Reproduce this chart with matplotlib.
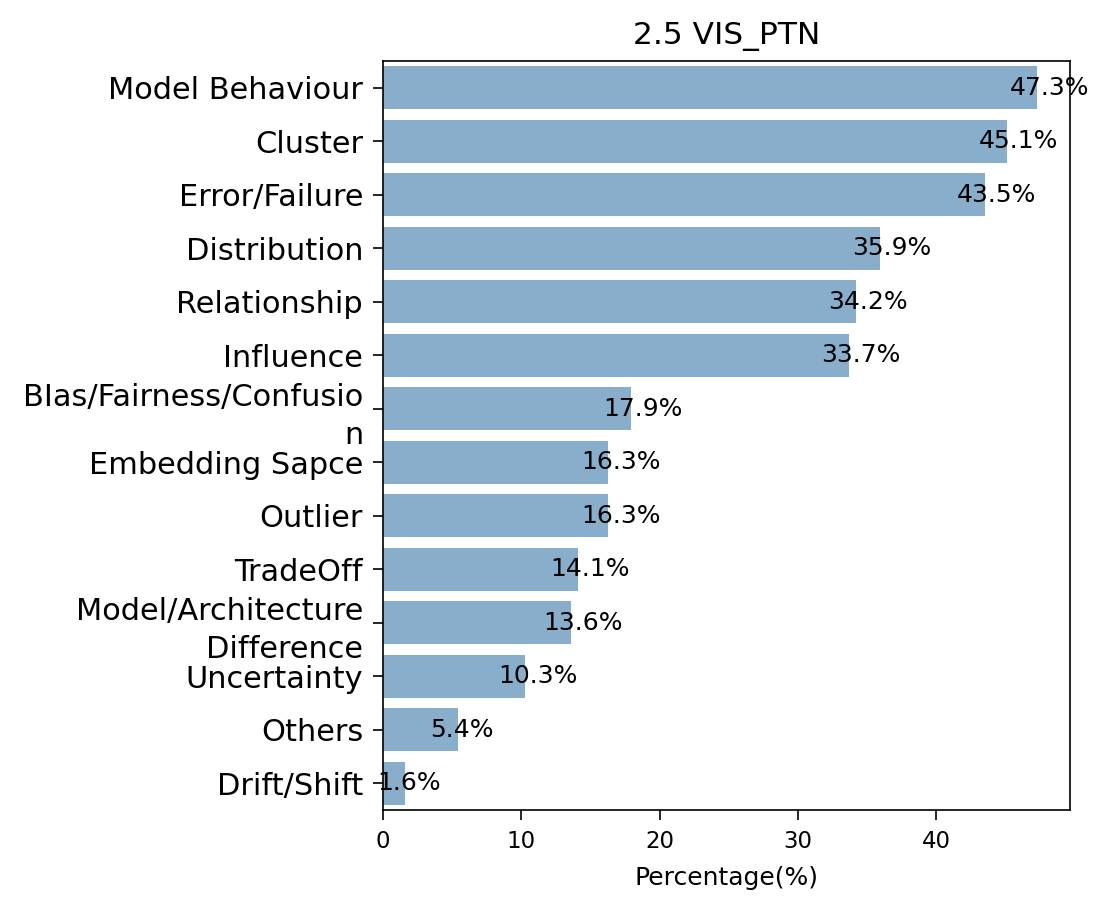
import textwrap
import matplotlib
matplotlib.use('Agg')
import matplotlib.pyplot as plt
import seaborn as sns
import pandas as pd

# Данные
categories = ['Model Behaviour', 'Cluster', 'Error/Failure', 'Distribution',
              'Relationship', 'Influence', 'BIas/Fairness/Confusion',
              'Embedding Sapce', 'Outlier', 'TradeOff',
              'Model/Architecture Difference', 'Uncertainty', 'Others', 'Drift/Shift']
percentages = [47.3, 45.1, 43.5, 35.9, 34.2, 33.7, 17.9,
               16.3, 16.3, 14.1, 13.6, 10.3, 5.4, 1.6]
title = '2.5 VIS_PTN'

df = pd.DataFrame({'category': [textwrap.fill(c, 22) for c in categories],
                   'pct': percentages})

dpi = 150
fig, ax = plt.subplots(figsize=(1108 / dpi, 908 / dpi), dpi=dpi)
fig.subplots_adjust(left=383 / 1108, right=1070 / 1108, top=1 - 61 / 908, bottom=1 - 810 / 908)

sns.barplot(data=df, x='pct', y='category', color='#89AECB', saturation=1, ax=ax)

# Подписи значений
for i, v in enumerate(df['pct']):
    ax.text(v - 2, i, f'{v}%', va='center', ha='left', fontsize=12)

ax.set_title(title, fontsize=15, pad=8)
ax.set_xlabel('Percentage(%)', fontsize=12, labelpad=6)
ax.set_ylabel('')
ax.tick_params(axis='y', labelsize=14.6, length=4.8, pad=4.8)
ax.tick_params(axis='x', labelsize=11, length=4.8, pad=4.8)
for lbl in ax.get_yticklabels():
    lbl.set_linespacing(1.4)

fig.savefig('out.png', dpi=dpi)
